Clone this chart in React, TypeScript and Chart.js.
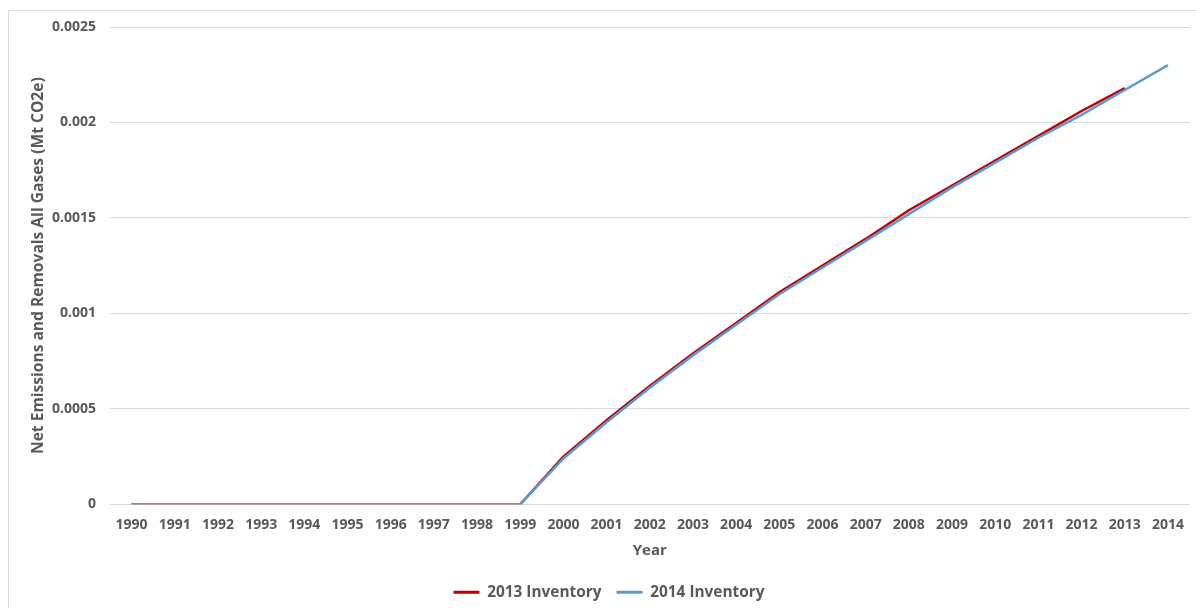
import React, { useEffect, useRef } from "react";
import { Chart, registerables } from "chart.js";

Chart.register(...registerables);

const years = [
  "1990", "1991", "1992", "1993", "1994", "1995", "1996", "1997", "1998", "1999",
  "2000", "2001", "2002", "2003", "2004", "2005", "2006", "2007", "2008", "2009",
  "2010", "2011", "2012", "2013", "2014",
];

const inventory2013 = [
  0, 0, 0, 0, 0, 0, 0, 0, 0, 0,
  0.00025, 0.00044, 0.00062, 0.00079, 0.00095, 0.00111, 0.00125, 0.00139, 0.00154, 0.00167,
  0.0018, 0.00193, 0.00206, 0.00218, null,
];

const inventory2014 = [
  0, 0, 0, 0, 0, 0, 0, 0, 0, 0,
  0.00024, 0.00043, 0.00061, 0.00078, 0.00094, 0.0011, 0.00124, 0.00138, 0.00152, 0.00166,
  0.00179, 0.00192, 0.00204, 0.00217, 0.0023,
];

const yTicks = [0, 0.0005, 0.001, 0.0015, 0.002, 0.0025];

const seriesNames = ["2013 Inventory", "2014 Inventory"];
const yTitle = "Net Emissions and Removals All Gases (Mt CO2e)";
const xTitle = "Year";

const TEXT = "#595959";
const FONT = "'Open Sans', 'DejaVu Sans', sans-serif";

export default function App() {
  const ref = useRef<HTMLCanvasElement | null>(null);

  useEffect(() => {
    if (!ref.current) return;
    const chart = new Chart(ref.current, {
      type: "line",
      data: {
        labels: years,
        datasets: [
          {
            label: seriesNames[0],
            data: inventory2013,
            borderColor: "#C00000",
            backgroundColor: "#C00000",
            borderWidth: 2.5,
            pointRadius: 0,
            tension: 0,
            order: 1,
            spanGaps: false,
          },
          {
            label: seriesNames[1],
            data: inventory2014,
            borderColor: "#5B9BD5",
            backgroundColor: "#5B9BD5",
            borderWidth: 2.5,
            pointRadius: 0,
            tension: 0,
            order: 0,
          },
        ],
      },
      options: {
        animation: false,
        responsive: false,
        maintainAspectRatio: false,
        layout: { padding: { top: 27, right: 2, bottom: -2, left: 24 } },
        plugins: {
          tooltip: { enabled: false },
          legend: {
            position: "bottom",
            labels: {
              color: TEXT,
              font: { family: FONT, size: 15.4, weight: "bold" },
              boxWidth: 26,
              boxHeight: 3,
              padding: 15,
              sort: (a: any, b: any) => a.datasetIndex - b.datasetIndex,
              generateLabels: (c: any) => {
                const items = Chart.defaults.plugins.legend.labels.generateLabels(c);
                return items.map((it: any) => ({
                  ...it,
                  fillStyle: it.strokeStyle,
                  lineWidth: 0,
                }));
              },
            },
          },
        },
        scales: {
          x: {
            offset: true,
            grid: { display: false, drawTicks: false, tickLength: 0 },
            border: { display: false },
            ticks: {
              color: TEXT,
              font: { family: FONT, size: 14, weight: "bold" },
              padding: 12,
              maxRotation: 0,
              autoSkip: false,
            },
            title: {
              display: true,
              text: xTitle,
              color: TEXT,
              font: { family: FONT, size: 15, weight: "bold" },
              padding: { top: -3, bottom: 9.5 },
            },
          },
          y: {
            min: 0,
            max: 0.0025,
            afterFit: (scale: any) => {
              scale.width = 86;
            },
            afterBuildTicks: (scale: any) => {
              scale.ticks = yTicks.map((v) => ({ value: v }));
            },
            grid: { color: "#D9D9D9", lineWidth: 1, drawTicks: false },
            border: { display: false },
            ticks: {
              color: TEXT,
              font: { family: FONT, size: 14, weight: "bold" },
              padding: 14,
              callback: (v: any) => String(Number(Number(v).toFixed(4))),
            },
            title: {
              display: true,
              text: yTitle,
              color: TEXT,
              font: { family: FONT, size: 15.6, weight: "bold" },
              padding: { top: 5, bottom: 0 },
            },
          },
        },
      },
    });
    return () => chart.destroy();
  }, []);

  return (
    <>
      <style>{"body{margin:0;overflow:hidden;background:#fff}"}</style>
      <div
        style={{
          position: "absolute",
          left: 8,
          top: 10,
          width: 1200,
          height: 620,
          border: "1px solid #D9D9D9",
          boxSizing: "border-box",
        }}
      />
      <canvas
        ref={ref}
        width={1196}
        height={608}
        style={{ position: "absolute", left: 0, top: 0, width: 1196, height: 608 }}
      />
    </>
  );
}
